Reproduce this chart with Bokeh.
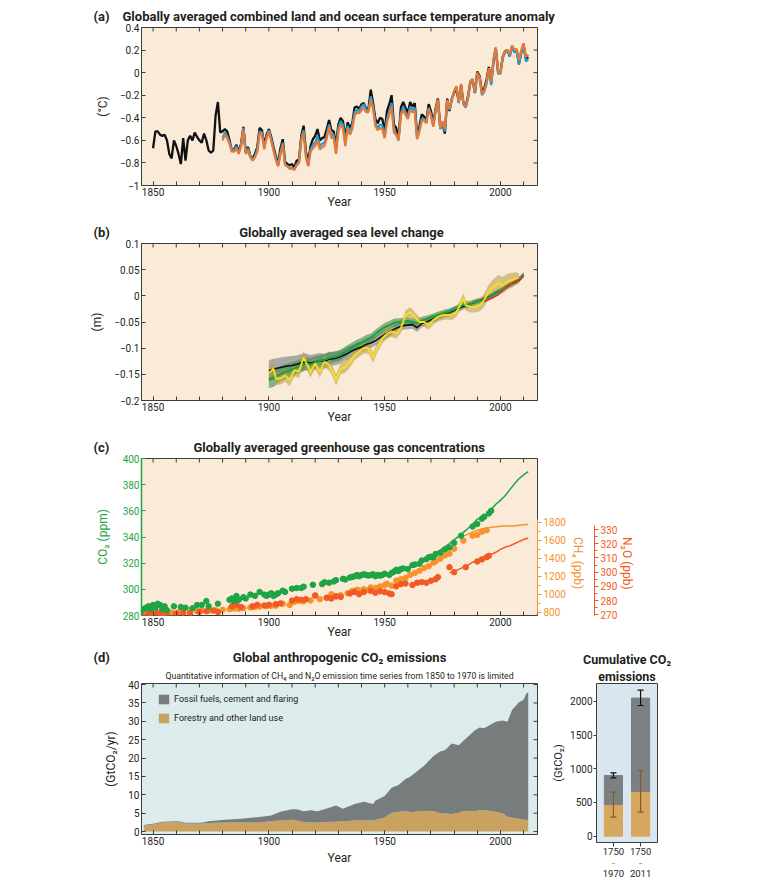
import math
import numpy as np
from bokeh.plotting import figure
from bokeh.models import (Range1d, LinearAxis, FixedTicker, ColumnDataSource, Title,
                          Legend, LegendItem, Whisker, TeeHead, FactorRange)
from bokeh.layouts import column, row
from bokeh.embed import file_html
from bokeh.resources import INLINE

# ---------------- data ----------------
year_ticks = [1850, 1900, 1950, 2000]
year_tick_labels = ["1850", "1900", "1950", "2000"]
decade_ticks = [1850, 1860, 1870, 1880, 1890, 1900, 1910, 1920, 1930, 1940, 1950, 1960,
                1970, 1980, 1990, 2000, 2010]

# (a) temperature anomaly (°C)
had_start = 1850
had_vals = [-0.67, -0.52, -0.52, -0.55, -0.56, -0.55, -0.60, -0.72, -0.76, -0.60,
            -0.65, -0.72, -0.81, -0.58, -0.78, -0.60, -0.56, -0.60, -0.53, -0.57,
            -0.60, -0.62, -0.54, -0.60, -0.69, -0.71, -0.69, -0.38, -0.26, -0.53,
            -0.52, -0.50, -0.52, -0.60, -0.69, -0.68, -0.64, -0.70, -0.63, -0.48,
            -0.70, -0.66, -0.74, -0.76, -0.72, -0.66, -0.49, -0.51, -0.64, -0.55,
            -0.50, -0.57, -0.66, -0.74, -0.81, -0.67, -0.59, -0.79, -0.81, -0.82,
            -0.81, -0.84, -0.78, -0.77, -0.56, -0.47, -0.70, -0.79, -0.65, -0.59,
            -0.56, -0.50, -0.60, -0.58, -0.57, -0.50, -0.42, -0.51, -0.52, -0.64,
            -0.46, -0.40, -0.43, -0.58, -0.44, -0.49, -0.45, -0.31, -0.30, -0.32,
            -0.28, -0.27, -0.32, -0.32, -0.15, -0.27, -0.41, -0.45, -0.40, -0.41,
            -0.52, -0.34, -0.28, -0.20, -0.46, -0.49, -0.58, -0.31, -0.26, -0.31,
            -0.36, -0.26, -0.30, -0.27, -0.55, -0.48, -0.37, -0.39, -0.42, -0.28,
            -0.34, -0.45, -0.32, -0.23, -0.48, -0.46, -0.54, -0.23, -0.34, -0.23,
            -0.18, -0.14, -0.26, -0.11, -0.27, -0.30, -0.21, -0.08, -0.06, -0.18,
            0.01, -0.03, -0.17, -0.14, -0.06, 0.05, -0.09, 0.10, 0.22, 0.00,
            0.00, 0.14, 0.19, 0.20, 0.15, 0.23, 0.20, 0.20, 0.08, 0.18,
            0.24, 0.12, 0.14]
giss_start = 1880
giss_vals = [-0.58, -0.53, -0.56, -0.62, -0.68, -0.69, -0.65, -0.71, -0.64, -0.49,
             -0.71, -0.67, -0.74, -0.77, -0.74, -0.68, -0.52, -0.53, -0.66, -0.57,
             -0.51, -0.59, -0.68, -0.76, -0.82, -0.71, -0.62, -0.81, -0.83, -0.85,
             -0.84, -0.86, -0.81, -0.79, -0.58, -0.51, -0.73, -0.82, -0.68, -0.64,
             -0.62, -0.56, -0.65, -0.63, -0.62, -0.55, -0.46, -0.55, -0.55, -0.69,
             -0.49, -0.43, -0.46, -0.62, -0.47, -0.52, -0.47, -0.35, -0.33, -0.34,
             -0.30, -0.28, -0.33, -0.33, -0.21, -0.30, -0.45, -0.49, -0.46, -0.47,
             -0.56, -0.41, -0.34, -0.27, -0.51, -0.54, -0.60, -0.36, -0.30, -0.35,
             -0.39, -0.30, -0.33, -0.31, -0.58, -0.51, -0.41, -0.41, -0.44, -0.31,
             -0.37, -0.47, -0.34, -0.24, -0.50, -0.45, -0.52, -0.25, -0.33, -0.24,
             -0.17, -0.13, -0.27, -0.11, -0.28, -0.31, -0.23, -0.10, -0.08, -0.18,
             -0.01, -0.05, -0.20, -0.17, -0.10, 0.02, -0.11, 0.09, 0.21, -0.01,
             -0.01, 0.13, 0.18, 0.19, 0.14, 0.22, 0.18, 0.19, 0.07, 0.17,
             0.23, 0.10, 0.12]
noaa_start = 1880
noaa_vals = [-0.60, -0.55, -0.58, -0.63, -0.70, -0.70, -0.67, -0.72, -0.65, -0.50,
             -0.72, -0.69, -0.75, -0.78, -0.75, -0.70, -0.54, -0.54, -0.68, -0.58,
             -0.52, -0.60, -0.69, -0.77, -0.83, -0.72, -0.64, -0.82, -0.83, -0.85,
             -0.85, -0.86, -0.82, -0.80, -0.60, -0.53, -0.75, -0.83, -0.70, -0.67,
             -0.65, -0.60, -0.68, -0.66, -0.65, -0.58, -0.48, -0.58, -0.57, -0.72,
             -0.52, -0.46, -0.49, -0.65, -0.49, -0.55, -0.50, -0.38, -0.35, -0.36,
             -0.33, -0.31, -0.35, -0.35, -0.24, -0.32, -0.47, -0.51, -0.49, -0.50,
             -0.58, -0.44, -0.37, -0.30, -0.53, -0.55, -0.60, -0.38, -0.33, -0.37,
             -0.41, -0.33, -0.35, -0.34, -0.59, -0.52, -0.43, -0.42, -0.45, -0.32,
             -0.38, -0.48, -0.34, -0.24, -0.49, -0.43, -0.50, -0.24, -0.32, -0.24,
             -0.16, -0.12, -0.26, -0.10, -0.27, -0.30, -0.22, -0.08, -0.06, -0.17,
             0.00, -0.04, -0.19, -0.16, -0.08, 0.04, -0.08, 0.12, 0.22, 0.00,
             0.00, 0.14, 0.19, 0.20, 0.16, 0.24, 0.20, 0.21, 0.11, 0.20,
             0.26, 0.14, 0.16]
temp_ticks = [-1.0, -0.8, -0.6, -0.4, -0.2, 0.0, 0.2, 0.4]
temp_tick_labels = ["\u22121", "\u22120.8", "\u22120.6", "\u22120.4", "\u22120.2", "0", "0.2", "0.4"]

# (b) sea level (m)
sl_years = [1900, 1902, 1904, 1906, 1908, 1910, 1912, 1914, 1916, 1918, 1920, 1922, 1924, 1926,
            1928, 1930, 1932, 1934, 1936, 1938, 1940, 1942, 1944, 1946, 1948, 1950, 1952, 1954,
            1956, 1958, 1960, 1962, 1964, 1966, 1968, 1970, 1972, 1974, 1976, 1978, 1980, 1982,
            1984, 1986, 1988, 1990, 1992, 1994, 1996, 1998, 2000, 2002, 2004, 2006, 2008, 2010]
sl_black = [-0.143, -0.140, -0.138, -0.136, -0.134, -0.133, -0.131, -0.128, -0.126, -0.129,
            -0.126, -0.124, -0.125, -0.121, -0.120, -0.118, -0.114, -0.110, -0.105, -0.101,
            -0.098, -0.093, -0.090, -0.086, -0.080, -0.074, -0.069, -0.064, -0.060, -0.057,
            -0.056, -0.055, -0.061, -0.053, -0.050, -0.046, -0.042, -0.038, -0.035, -0.032,
            -0.028, -0.024, -0.020, -0.017, -0.014, -0.011, -0.008, -0.004, 0.000, 0.006,
            0.010, 0.015, 0.021, 0.025, 0.030, 0.040]
sl_black_unc = [0.020, 0.020, 0.019, 0.019, 0.018, 0.018, 0.017, 0.017, 0.016, 0.016,
                0.015, 0.015, 0.014, 0.014, 0.013, 0.013, 0.012, 0.012, 0.011, 0.011,
                0.010, 0.010, 0.010, 0.009, 0.009, 0.009, 0.009, 0.008, 0.008, 0.008,
                0.008, 0.008, 0.008, 0.007, 0.007, 0.007, 0.007, 0.007, 0.007, 0.007,
                0.006, 0.006, 0.006, 0.006, 0.006, 0.006, 0.006, 0.006, 0.005, 0.005,
                0.005, 0.005, 0.005, 0.005, 0.005, 0.005]
sl_green = [-0.160, -0.158, -0.152, -0.147, -0.144, -0.141, -0.137, -0.133, -0.129, -0.131,
            -0.127, -0.124, -0.122, -0.119, -0.117, -0.115, -0.110, -0.104, -0.098, -0.093,
            -0.089, -0.084, -0.080, -0.073, -0.066, -0.060, -0.056, -0.052, -0.050, -0.049,
            -0.048, -0.050, -0.052, -0.047, -0.044, -0.041, -0.038, -0.035, -0.032, -0.030,
            -0.026, -0.022, -0.017, -0.018, -0.014, -0.011, -0.009, -0.006, 0.000, 0.005,
            0.010, 0.016, 0.021, 0.026, 0.031, 0.040]
sl_green_unc = [0.016, 0.016, 0.015, 0.015, 0.014, 0.014, 0.013, 0.013, 0.012, 0.012,
                0.012, 0.011, 0.011, 0.011, 0.010, 0.010, 0.010, 0.010, 0.009, 0.009,
                0.009, 0.009, 0.008, 0.008, 0.008, 0.008, 0.008, 0.008, 0.007, 0.007,
                0.007, 0.007, 0.007, 0.007, 0.006, 0.006, 0.006, 0.006, 0.006, 0.006,
                0.006, 0.006, 0.006, 0.005, 0.005, 0.005, 0.005, 0.005, 0.005, 0.005,
                0.005, 0.005, 0.005, 0.005, 0.005, 0.005]
sl_yellow_years = [1900, 1902, 1903, 1905, 1907, 1909, 1911, 1913, 1915, 1917, 1918, 1920, 1922,
                   1924, 1926, 1927, 1929, 1931, 1933, 1935, 1937, 1939, 1941, 1943, 1945, 1947,
                   1949, 1951, 1953, 1955, 1957, 1959, 1961, 1963, 1965, 1967, 1969, 1971, 1973,
                   1975, 1977, 1979, 1981, 1983, 1984, 1985, 1987, 1989, 1991, 1993, 1995, 1997,
                   1999, 2001, 2003, 2005, 2007, 2008]
sl_yellow = [-0.148, -0.139, -0.158, -0.158, -0.152, -0.161, -0.142, -0.145, -0.118, -0.136,
             -0.145, -0.129, -0.145, -0.126, -0.132, -0.139, -0.161, -0.139, -0.136, -0.126,
             -0.113, -0.107, -0.100, -0.100, -0.118, -0.097, -0.081, -0.072, -0.068, -0.072,
             -0.062, -0.037, -0.031, -0.040, -0.050, -0.050, -0.056, -0.046, -0.040, -0.037,
             -0.036, -0.037, -0.031, -0.015, -0.005, -0.018, -0.021, -0.021, -0.018, -0.008,
             0.008, 0.017, 0.024, 0.020, 0.027, 0.030, 0.033, 0.033]
sl_yellow_unc = [0.012, 0.012, 0.012, 0.012, 0.012, 0.012, 0.012, 0.012, 0.012, 0.012,
                 0.011, 0.011, 0.011, 0.011, 0.011, 0.011, 0.011, 0.011, 0.011, 0.011,
                 0.010, 0.010, 0.010, 0.010, 0.010, 0.010, 0.010, 0.010, 0.010, 0.010,
                 0.009, 0.009, 0.009, 0.009, 0.009, 0.009, 0.009, 0.009, 0.009, 0.009,
                 0.009, 0.009, 0.009, 0.010, 0.010, 0.010, 0.011, 0.011, 0.012, 0.013,
                 0.014, 0.015, 0.016, 0.016, 0.015, 0.014, 0.012, 0.010]
sl_red_years = [1993, 1995, 1997, 1999, 2001, 2003, 2005, 2007, 2009, 2010]
sl_red = [-0.011, -0.007, -0.003, 0.002, 0.010, 0.018, 0.024, 0.030, 0.033, 0.038]
sl_ticks = [-0.2, -0.15, -0.1, -0.05, 0.0, 0.05, 0.1]
sl_tick_labels = ["\u22120.2", "\u22120.15", "\u22120.1", "\u22120.05", "0", "0.05", "0.1"]

# (c) greenhouse gases
co2_years = [1845, 1846, 1847, 1848, 1849, 1850, 1851, 1852, 1853, 1854,
             1855, 1856, 1859, 1862, 1864, 1867, 1869, 1871, 1873, 1874,
             1878, 1883, 1884, 1885, 1886, 1887, 1889, 1890, 1892, 1894,
             1896, 1898, 1899, 1900, 1901, 1902, 1903, 1904, 1906, 1907,
             1910, 1912, 1914, 1915, 1919, 1923, 1924, 1926, 1928, 1929,
             1932, 1933, 1935, 1936, 1937, 1938, 1939, 1940, 1941, 1942,
             1943, 1944, 1945, 1946, 1947, 1948, 1949, 1950, 1952, 1953,
             1954, 1955, 1956, 1957, 1958, 1960, 1962, 1963, 1965, 1966,
             1968, 1969, 1970, 1971, 1972, 1974, 1976, 1978, 1980, 1983,
             1988, 1990, 1992, 1993, 1995, 1996]
co2_ppm = [284, 285, 286, 287, 285, 288, 286, 289, 288, 285,
           287, 284, 287, 286.5, 286, 285.5, 288, 288, 291, 287,
           289, 292, 293, 291, 295, 292, 294, 293, 296, 295,
           298, 296, 295, 296, 297, 295, 296, 297, 299, 298,
           300.5, 301, 301, 302, 303.5, 304, 305.5, 305, 306, 307,
           308, 307.5, 309, 309.5, 310, 311, 310, 311, 311.5, 311,
           310.5, 311, 311.5, 310, 311, 310.5, 311, 312, 311, 312.5,
           313.5, 315, 314, 315.5, 316, 315.5, 318.5, 319, 319.5, 322,
           323, 324.5, 325, 324.5, 327, 328, 330.5, 332, 335.5, 341,
           348, 350, 354, 355.5, 358, 360]
co2_line_years = [1958, 1962, 1966, 1970, 1974, 1978, 1980, 1982, 1984, 1986, 1988, 1990, 1992,
                  1994, 1996, 1998, 2000, 2002, 2004, 2006, 2008, 2010, 2012]
co2_line_ppm = [315, 318, 321, 325, 330, 335, 338, 340.5, 343.5, 346.5, 350, 353.5, 355.5,
                357.5, 361, 365, 368, 371.5, 376, 380.5, 384.5, 387.5, 390]
ch4_years = [1845, 1847, 1849, 1851, 1853, 1855, 1858, 1861, 1863, 1866,
             1869, 1871, 1874, 1877, 1880, 1883, 1885, 1887, 1889, 1892,
             1894, 1896, 1899, 1901, 1903, 1906, 1909, 1911, 1913, 1915,
             1918, 1920, 1922, 1925, 1927, 1929, 1931, 1934, 1936, 1938,
             1939, 1941, 1943, 1944, 1946, 1948, 1950, 1951, 1953, 1955,
             1957, 1959, 1961, 1963, 1965, 1967, 1969, 1971, 1972, 1974,
             1976, 1978, 1980, 1984, 1988, 1990, 1992, 1994]
ch4_ppb = [790, 798, 785, 800, 782, 790, 795, 800, 797, 805,
           812, 818, 815, 822, 826, 833, 840, 837, 845, 852,
           858, 862, 866, 870, 872, 893, 880, 915, 925, 920,
           930, 985, 945, 960, 1000, 975, 990, 1010, 1035, 1050,
           1040, 1055, 1045, 1075, 1070, 1085, 1100, 1115, 1095, 1150,
           1165, 1180, 1215, 1235, 1260, 1290, 1310, 1350, 1365, 1395,
           1430, 1450, 1505, 1595, 1650, 1660, 1695, 1710]
ch4_line_years = [1984, 1986, 1988, 1990, 1992, 1994, 1996, 1998, 2000, 2002, 2004, 2006, 2008,
                  2010, 2012]
ch4_line_ppb = [1645, 1668, 1690, 1710, 1725, 1735, 1745, 1750, 1755, 1758, 1757, 1758, 1765,
                1772, 1778]
n2o_years = [1845, 1848, 1850, 1852, 1854, 1856, 1860, 1863, 1866, 1870,
             1873, 1876, 1878, 1884, 1886, 1888, 1893, 1895, 1898, 1900,
             1903, 1905, 1910, 1912, 1914, 1916, 1920, 1925, 1927, 1929,
             1931, 1935, 1937, 1939, 1941, 1944, 1946, 1948, 1950, 1952,
             1953, 1955, 1957, 1959, 1962, 1964, 1966, 1968, 1970, 1972,
             1973, 1978, 1980, 1985, 1990, 1992, 1994, 1995]
n2o_ppb = [270.5, 271, 270, 271.5, 270.5, 270, 271, 271.5, 271, 272,
           272.5, 273, 272, 276, 277, 275.5, 276, 277, 276.5, 277,
           277.5, 278, 280, 281, 280.5, 281, 283.5, 282, 281.5, 283,
           282.5, 285, 286, 284.5, 286, 287, 285.5, 286.5, 286, 285,
           284.5, 290, 291.5, 292, 291, 292.5, 293, 292.5, 294, 295,
           296.5, 303.5, 300, 303.5, 307.5, 309, 310.5, 311.5]
n2o_line_years = [1978, 1980, 1982, 1984, 1986, 1988, 1990, 1992, 1994, 1996, 1998, 2000, 2002,
                  2004, 2006, 2008, 2010, 2012]
n2o_line_ppb = [299.5, 300.5, 302, 303.5, 305, 307, 308.5, 310, 311, 312.5, 314, 316, 317.5,
                318.5, 320, 321.5, 323, 324]
co2_ticks = [280, 300, 320, 340, 360, 380, 400]
ch4_ticks = [800, 1000, 1200, 1400, 1600, 1800]
ch4_minor = [900, 1100, 1300, 1500, 1700]
n2o_ticks = [270, 280, 290, 300, 310, 320, 330]
n2o_minor = [275, 285, 295, 305, 315, 325]

# (d) emissions (GtCO2/yr)
em_years = [1846, 1850, 1854, 1861, 1864, 1871, 1874, 1881, 1888, 1895,
            1901, 1905, 1910, 1912, 1915, 1918, 1921, 1924, 1929, 1932,
            1937, 1941, 1945, 1946, 1950, 1953, 1956, 1959, 1961, 1967,
            1971, 1974, 1976, 1979, 1982, 1984, 1989, 1991, 1993, 1996,
            1998, 2001, 2003, 2005, 2008, 2010, 2011, 2012]
em_forestry = [1.6, 1.9, 2.5, 2.6, 2.2, 2.1, 2.3, 2.5, 2.5, 2.5,
               2.8, 3.0, 3.2, 3.0, 2.6, 2.5, 2.5, 2.6, 2.7, 2.8,
               3.0, 3.1, 3.1, 3.2, 3.8, 5.1, 5.4, 5.6, 5.3, 5.6,
               5.6, 5.0, 4.9, 4.8, 5.1, 5.6, 5.5, 5.8, 5.9, 5.5,
               5.4, 5.0, 4.0, 3.8, 3.5, 3.3, 3.2, 3.1]
em_fossil = [0.2, 0.2, 0.2, 0.2, 0.2, 0.3, 0.5, 0.7, 1.0, 1.4,
             1.6, 2.4, 2.9, 3.1, 2.9, 3.3, 3.0, 3.5, 4.4, 3.4,
             4.5, 5.0, 4.4, 5.2, 5.9, 6.8, 7.3, 8.7, 9.6, 12.3,
             14.9, 16.8, 17.2, 19.2, 18.4, 19.1, 22.1, 22.5, 22.2, 23.7,
             24.5, 25.2, 25.9, 29.3, 31.7, 32.6, 34.2, 34.9]
em_ticks = [0, 5, 10, 15, 20, 25, 30, 35, 40]
em_labels = ["Fossil fuels, cement and flaring", "Forestry and other land use"]

# cumulative (GtCO2)
cum_start = ["1750", "1750"]
cum_dash = ["\u2013", "\u2013"]
cum_end = ["1970", "2011"]
cum_forestry = [470, 665]
cum_fossil = [430, 1385]
cum_total_lo = [865, 1940]
cum_total_hi = [940, 2170]
cum_forestry_lo = [282, 356]
cum_forestry_hi = [653, 975]
cum_ticks = [0, 500, 1000, 1500, 2000]

# ---------------- styling ----------------
FONT = "Roboto"
INK = "#231f20"
BEIGE = "#f9ebd8"
LBLUE = "#dcebec"
CBLUE = "#d9e5ef"
EDGE = "#3c3c3c"
GREEN = "#1ea444"
CH4C = "#f7932c"
N2OC = "#f15a24"
NB = "\u00a0"


def style_axis(ax, color=INK, tick_color=EDGE):
    ax.major_label_text_font = FONT
    ax.major_label_text_font_size = "10px"
    ax.major_label_text_color = color
    ax.axis_label_text_font = FONT
    ax.axis_label_text_font_style = "normal"
    ax.axis_label_text_font_size = "12px"
    ax.axis_label_text_color = color
    ax.axis_line_color = None
    ax.major_tick_line_color = tick_color
    ax.minor_tick_line_color = tick_color
    ax.major_tick_in = 4
    ax.major_tick_out = 0
    ax.minor_tick_in = 4
    ax.minor_tick_out = 0
    ax.major_label_standoff = 2


def add_title(p, s, size="13px", bold=True, align="left", offset=-48, standoff=8):
    p.add_layout(Title(text=s, align=align, offset=offset, standoff=standoff,
                       text_font=FONT, text_font_size=size, text_color=INK,
                       text_font_style="bold" if bold else "normal"), "above")


def time_fig(width, height, bt, bb, br, y0, y1, yticks, ylabels, ylabel, bg=BEIGE,
             right_ticks=True):
    p = figure(width=width, height=height, x_range=Range1d(1845, 2016), y_range=Range1d(y0, y1),
               output_backend="svg", toolbar_location=None,
               min_border_left=141, min_border_right=br, min_border_top=bt, min_border_bottom=bb,
               background_fill_color=bg, border_fill_color="white",
               outline_line_color=EDGE, outline_line_width=1)
    p.grid.visible = False
    p.xaxis.ticker = FixedTicker(ticks=year_ticks, minor_ticks=decade_ticks)
    style_axis(p.xaxis[0])
    p.xaxis.major_label_overrides = dict(zip(year_ticks, year_tick_labels))
    p.xaxis.axis_label = "Year"
    p.xaxis.axis_label_standoff = -4
    p.yaxis.ticker = FixedTicker(ticks=yticks, minor_ticks=[])
    style_axis(p.yaxis[0])
    p.yaxis.major_label_overrides = dict(zip(yticks, ylabels))
    p.yaxis.axis_label = ylabel
    p.yaxis.axis_label_standoff = 7
    # inward ticks on the top edge (and right edge)
    p.ray(x=decade_ticks, y=[y1] * len(decade_ticks), length=4, length_units="screen",
          angle=-math.pi / 2, line_color=EDGE, line_width=1)
    if right_ticks:
        p.ray(x=[2016] * len(yticks), y=yticks, length=4, length_units="screen",
              angle=math.pi, line_color=EDGE, line_width=1)
    return p


# ---------------- (a) ----------------
pa = time_fig(668, 215, 27, 30, 131, -1.0, 0.4, temp_ticks, temp_tick_labels, "(\u00b0C)")
pa.line([had_start + i for i in range(len(had_vals))], had_vals, color="#111111", line_width=2.3)
pa.line([giss_start + i for i in range(len(giss_vals))], giss_vals, color="#1f9ad6", line_width=2.2)
pa.line([noaa_start + i for i in range(len(noaa_vals))], noaa_vals, color="#e0793a", line_width=2.3)
add_title(pa, "(a)" + NB * 4 + "Globally averaged combined land and ocean surface temperature anomaly",
          standoff=8)

# ---------------- (b) ----------------
pb = time_fig(668, 215, 28, 30, 131, -0.2, 0.1, sl_ticks, sl_tick_labels, "(m)")
bk = np.array(sl_black); bku = np.array(sl_black_unc)
gr = np.array(sl_green); gru = np.array(sl_green_unc)
ye = np.array(sl_yellow); yeu = np.array(sl_yellow_unc)
pb.varea(x=sl_years, y1=bk - bku, y2=bk + bku, fill_color="#8d9393", fill_alpha=0.75)
pb.varea(x=sl_years, y1=gr - gru, y2=gr + gru, fill_color="#3d8a45", fill_alpha=0.6)
pb.varea(x=sl_yellow_years, y1=ye - yeu, y2=ye + yeu, fill_color="#bfa04a", fill_alpha=0.6)
pb.line(sl_years, sl_black, color="#111111", line_width=1.6)
pb.line(sl_years, sl_green, color="#17a048", line_width=2)
pb.line(sl_yellow_years, sl_yellow, color="#f2e31b", line_width=1.8)
pb.line(sl_red_years, sl_red, color="#e8302a", line_width=1.6)
add_title(pb, "(b)" + NB * 40 + "Globally averaged sea level change", standoff=7)

# ---------------- (c) ----------------
pc = time_fig(668, 211, 28, 26, 131, 280, 400, co2_ticks, [str(t) for t in co2_ticks],
              "CO\u2082 (ppm)", right_ticks=False)
pc.yaxis.major_label_text_color = GREEN
pc.yaxis.axis_label_text_color = GREEN
pc.yaxis.axis_label_standoff = 10
pc.yaxis.axis_line_color = GREEN
pc.yaxis.axis_line_width = 1.5
pc.yaxis.major_tick_line_color = GREEN
pc.extra_y_ranges = {"ch4": Range1d(763, 2508), "n2o": Range1d(269.5, 380)}
ch4_ax = LinearAxis(y_range_name="ch4", ticker=FixedTicker(ticks=ch4_ticks, minor_ticks=ch4_minor),
                    bounds=(790, 1830), axis_label="CH\u2084 (ppb)")
style_axis(ch4_ax, color=CH4C, tick_color=CH4C)
ch4_ax.axis_line_color = CH4C
ch4_ax.major_tick_in = 0; ch4_ax.major_tick_out = 4
ch4_ax.minor_tick_in = 0; ch4_ax.minor_tick_out = 3
ch4_ax.axis_label_standoff = 9
spacer = LinearAxis(y_range_name="n2o", ticker=FixedTicker(ticks=[], minor_ticks=[]),
                    axis_line_color=None, major_tick_line_color=None, minor_tick_line_color=None,
                    major_tick_in=0, major_tick_out=16, minor_tick_in=0, minor_tick_out=0)
n2o_ax = LinearAxis(y_range_name="n2o", ticker=FixedTicker(ticks=n2o_ticks, minor_ticks=n2o_minor),
                    bounds=(268, 333), axis_label="N\u2082O (ppb)")
style_axis(n2o_ax, color=N2OC, tick_color=N2OC)
n2o_ax.axis_line_color = N2OC
n2o_ax.major_tick_in = 0; n2o_ax.major_tick_out = 4
n2o_ax.minor_tick_in = 0; n2o_ax.minor_tick_out = 3
n2o_ax.axis_label_standoff = 7
for ax in (ch4_ax, n2o_ax):
    try:
        ax.axis_label_orientation = -math.pi / 2
    except Exception:
        pass
pc.add_layout(ch4_ax, "right")
pc.add_layout(spacer, "right")
pc.add_layout(n2o_ax, "right")
pc.line(co2_line_years, co2_line_ppm, color=GREEN, line_width=1.5)
pc.line(ch4_line_years, ch4_line_ppb, color=CH4C, line_width=1.5, y_range_name="ch4")
pc.line(n2o_line_years, n2o_line_ppb, color=N2OC, line_width=1.5, y_range_name="n2o")
pc.scatter(ch4_years, ch4_ppb, size=5.5, color=CH4C, y_range_name="ch4")
pc.scatter(n2o_years, n2o_ppb, size=5.5, color=N2OC, y_range_name="n2o")
pc.scatter(co2_years, co2_ppm, size=5.5, color=GREEN)
add_title(pc, "(c)" + NB * 26 + "Globally averaged greenhouse gas concentrations", standoff=7)

# ---------------- (d) ----------------
pd_ = time_fig(549, 231, 41, 32, 12, -0.8, 40.3, em_ticks, [str(t) for t in em_ticks],
               "(GtCO\u2082/yr)", bg=LBLUE)
pd_.xaxis.axis_label_standoff = 3
em_src = ColumnDataSource(dict(year=em_years, forestry=em_forestry, fossil=em_fossil))
r_for, r_fos = pd_.varea_stack(["forestry", "fossil"], x="year", color=["#c9a161", "#777c7d"],
                               source=em_src)
leg = Legend(items=[LegendItem(label=em_labels[0], renderers=[r_fos]),
                    LegendItem(label=em_labels[1], renderers=[r_for])],
             location=(16, 110), background_fill_alpha=0, border_line_color=None,
             label_text_font=FONT, label_text_font_size="9px", label_text_color=INK,
             glyph_width=13, glyph_height=12, spacing=7, margin=0, padding=0, label_standoff=4)
pd_.add_layout(leg)
add_title(pd_, "Quantitative information of CH\u2084 and N\u2082O emission time series from 1850 to 1970 is limited",
          size="8.7px", bold=False, align="center", offset=0, standoff=6)
add_title(pd_, "(d)" + NB * 38 + "Global anthropogenic CO\u2082 emissions", standoff=1)

# ---------------- cumulative ----------------
cum_x = list(zip(cum_end, cum_dash, cum_start))
pe = figure(width=128, height=239, output_backend="svg", toolbar_location=None,
            x_range=FactorRange(factors=cum_x, group_padding=0.3, subgroup_padding=0.0,
                                factor_padding=0.0, range_padding=0.31,
                                range_padding_units="absolute"),
            y_range=Range1d(-94, 2267),
            min_border_left=44, min_border_right=20, min_border_top=42, min_border_bottom=38,
            background_fill_color=CBLUE, border_fill_color="white",
            outline_line_color=EDGE, outline_line_width=1)
pe.grid.visible = False
cum_src = ColumnDataSource(dict(period=cum_x, forestry=cum_forestry, fossil=cum_fossil,
                                tlo=cum_total_lo, thi=cum_total_hi,
                                flo=cum_forestry_lo, fhi=cum_forestry_hi))
pe.vbar_stack(["forestry", "fossil"], x="period", width=0.87, color=["#d6a75e", "#7b8082"],
              source=cum_src)
for lo, hi, col in (("flo", "fhi", "#8a5a24"), ("tlo", "thi", "#111111")):
    pe.add_layout(Whisker(source=cum_src, base="period", lower=lo, upper=hi, level="annotation",
                          line_color=col, line_width=1.2,
                          lower_head=TeeHead(size=6, line_color=col, line_width=1.2),
                          upper_head=TeeHead(size=6, line_color=col, line_width=1.2)))
pe.yaxis.ticker = FixedTicker(ticks=cum_ticks, minor_ticks=[])
style_axis(pe.yaxis[0])
pe.yaxis.axis_label = "(GtCO\u2082)"
pe.yaxis.axis_label_text_font_size = "11px"
pe.yaxis.axis_label_standoff = 2
pe.yaxis.major_label_standoff = 1
pe.yaxis.major_tick_in = 0
pe.yaxis.major_tick_out = 3
xa = pe.xaxis[0]
style_axis(xa)
xa.major_label_text_font_size = "9.5px"
xa.major_label_standoff = 1
xa.major_tick_in = 0
xa.major_tick_out = 4
xa.separator_line_color = None
xa.group_text_font = FONT
xa.group_text_font_size = "9.5px"
xa.group_text_font_style = "normal"
xa.group_text_color = INK
xa.subgroup_text_font = FONT
xa.subgroup_text_font_size = "6px"
xa.subgroup_text_font_style = "normal"
xa.subgroup_text_color = INK
add_title(pe, "emissions", size="12.5px", align="center", offset=0, standoff=0)
add_title(pe, "Cumulative CO\u2082", size="12.5px", align="center", offset=0, standoff=0)

layout = column(pa, pb, pc, row(pd_, pe))
open("out.html", "w").write(file_html(layout, INLINE))
